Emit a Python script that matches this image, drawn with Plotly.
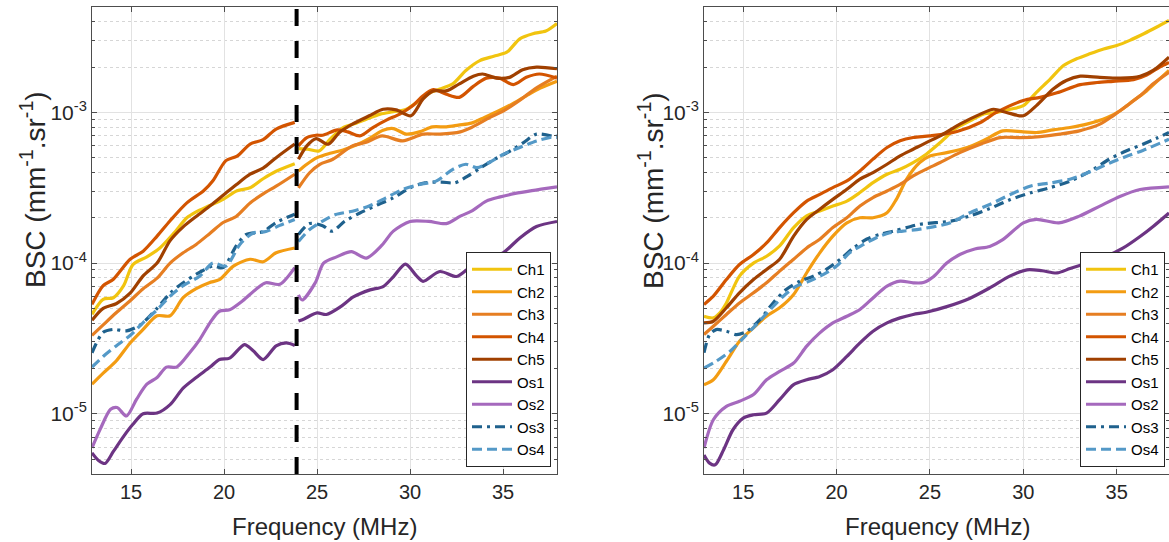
import plotly.graph_objects as go

# ---------------------------------------------------------------------------
# Backscatter coefficient spectra (BSC, mm^-1.sr^-1) versus frequency (MHz)
# Left panel: two transducer bands joined at split_freq
# Right panel: single combined spectrum
# ---------------------------------------------------------------------------
names = ["Ch1", "Ch2", "Ch3", "Ch4", "Ch5", "Os1", "Os2", "Os3", "Os4"]
split_freq = 23.9
x_ticks = [15, 20, 25, 30, 35]
y_ticks = [1e-5, 1e-4, 1e-3]
y_ticktext = ["10<sup>-5</sup>", "10<sup>-4</sup>", "10<sup>-3</sup>"]

# ---- left panel, low band -------------------------------------------------
ch1_lo_f = [12.9, 13.5, 14.05, 14.6, 15.1, 15.85, 16.55, 17.3, 18.0, 18.5, 19.2, 19.95, 20.7, 21.4, 22.1, 22.8, 23.8]
ch1_lo = [4.57e-5, 5.75e-5, 5.89e-5, 7.08e-5, 9.77e-5, 1.10e-4, 1.26e-4, 1.58e-4, 2.0e-4, 2.19e-4, 2.40e-4, 2.65e-4, 3.02e-4, 3.16e-4, 3.63e-4, 4.07e-4, 4.57e-4]
ch2_lo_f = [12.9, 13.5, 14.2, 14.95, 15.65, 16.4, 17.1, 17.8, 18.5, 19.2, 19.75, 20.5, 21.4, 22.1, 22.8, 23.8]
ch2_lo = [1.57e-5, 1.86e-5, 2.24e-5, 2.95e-5, 3.63e-5, 4.47e-5, 4.47e-5, 5.89e-5, 6.76e-5, 7.41e-5, 7.76e-5, 9.55e-5, 1.06e-4, 1.02e-4, 1.17e-4, 1.26e-4]
ch3_lo_f = [12.9, 13.5, 14.2, 14.95, 15.65, 16.4, 17.1, 17.8, 18.5, 19.25, 19.95, 20.65, 21.4, 22.1, 22.8, 23.8]
ch3_lo = [3.31e-5, 3.89e-5, 4.68e-5, 5.62e-5, 6.76e-5, 7.94e-5, 1.0e-4, 1.17e-4, 1.33e-4, 1.58e-4, 1.86e-4, 2.04e-4, 2.51e-4, 2.88e-4, 3.24e-4, 3.89e-4]
ch4_lo_f = [12.9, 13.5, 14.05, 14.95, 15.65, 16.4, 17.1, 18.0, 18.9, 19.4, 20.1, 20.7, 21.4, 22.1, 22.8, 23.8]
ch4_lo = [5.32e-5, 7.08e-5, 7.82e-5, 1.06e-4, 1.20e-4, 1.51e-4, 1.91e-4, 2.51e-4, 3.02e-4, 3.52e-4, 4.79e-4, 5.13e-4, 6.17e-4, 6.61e-4, 7.76e-4, 8.59e-4]
ch5_lo_f = [12.9, 13.5, 14.2, 14.95, 15.65, 16.4, 17.1, 17.8, 18.5, 19.25, 19.95, 20.65, 21.4, 22.1, 22.8, 23.8]
ch5_lo = [4.17e-5, 5.01e-5, 5.37e-5, 6.31e-5, 8.22e-5, 1.0e-4, 1.41e-4, 1.74e-4, 2.04e-4, 2.40e-4, 2.82e-4, 3.31e-4, 3.89e-4, 4.27e-4, 5.01e-4, 6.17e-4]
os1_lo_f = [12.9, 13.25, 13.6, 14.05, 14.6, 15.1, 15.65, 16.4, 17.1, 17.8, 18.5, 19.25, 19.75, 20.3, 21.1, 21.55, 22.1, 22.8, 23.35, 23.8]
os1_lo = [5.50e-6, 4.90e-6, 4.68e-6, 5.62e-6, 7.08e-6, 8.51e-6, 1.0e-5, 1.01e-5, 1.15e-5, 1.48e-5, 1.74e-5, 2.04e-5, 2.29e-5, 2.34e-5, 2.88e-5, 2.63e-5, 2.29e-5, 2.82e-5, 2.95e-5, 2.84e-5]
os2_lo_f = [12.9, 13.35, 13.9, 14.25, 14.75, 15.3, 15.85, 16.4, 16.9, 17.45, 18.15, 18.7, 19.25, 19.75, 20.3, 21.0, 21.75, 22.25, 23.0, 23.8]
os2_lo = [5.94e-6, 7.94e-6, 1.07e-5, 1.10e-5, 9.66e-6, 1.25e-5, 1.57e-5, 1.74e-5, 2.04e-5, 2.04e-5, 2.54e-5, 3.12e-5, 4.03e-5, 4.79e-5, 4.90e-5, 5.62e-5, 6.76e-5, 7.41e-5, 7.24e-5, 9.33e-5]
os3_lo_f = [12.9, 13.5, 14.05, 14.75, 15.5, 16.4, 17.1, 17.8, 18.7, 19.4, 19.95, 20.65, 21.2, 22.1, 22.8, 23.8]
os3_lo = [2.54e-5, 3.47e-5, 3.63e-5, 3.55e-5, 3.89e-5, 5.01e-5, 6.31e-5, 7.41e-5, 8.71e-5, 9.55e-5, 9.33e-5, 1.30e-4, 1.55e-4, 1.62e-4, 1.86e-4, 2.11e-4]
os4_lo_f = [12.9, 13.5, 14.2, 14.95, 15.65, 16.4, 17.1, 17.8, 18.7, 19.4, 20.1, 20.85, 21.55, 22.25, 23.0, 23.8]
os4_lo = [2.04e-5, 2.40e-5, 2.82e-5, 3.31e-5, 4.03e-5, 4.90e-5, 6.03e-5, 7.08e-5, 8.22e-5, 1.0e-4, 9.55e-5, 1.33e-4, 1.58e-4, 1.62e-4, 1.78e-4, 1.95e-4]

# ---- left panel, high band ------------------------------------------------
ch1_hi_f = [24.0, 24.5, 25.1, 25.7, 26.4, 27.1, 27.65, 28.4, 29.1, 29.8, 30.5, 31.1, 31.6, 32.3, 33.0, 33.75, 34.5, 35.2, 35.9, 36.6, 37.3, 37.9]
ch1_hi = [5.75e-4, 5.70e-4, 5.55e-4, 6.64e-4, 7.94e-4, 8.49e-4, 9.03e-4, 9.75e-4, 1.01e-3, 1.05e-3, 1.20e-3, 1.36e-3, 1.43e-3, 1.55e-3, 1.90e-3, 2.21e-3, 2.36e-3, 2.51e-3, 3.08e-3, 3.33e-3, 3.47e-3, 3.90e-3]
ch2_hi_f = [24.0, 24.45, 25.0, 25.7, 26.4, 27.1, 27.8, 28.55, 29.1, 29.8, 30.5, 31.2, 31.95, 32.6, 33.3, 34.0, 34.8, 35.5, 36.25, 37.0, 37.9]
ch2_hi = [4.08e-4, 4.53e-4, 5.01e-4, 5.36e-4, 5.64e-4, 6.08e-4, 6.71e-4, 7.63e-4, 7.82e-4, 7.18e-4, 7.43e-4, 8.02e-4, 8.02e-4, 8.24e-4, 8.49e-4, 9.27e-4, 1.03e-3, 1.14e-3, 1.29e-3, 1.45e-3, 1.61e-3]
ch3_hi_f = [24.0, 24.6, 25.15, 25.85, 26.9, 27.6, 28.5, 29.6, 30.7, 31.6, 32.7, 33.3, 34.3, 35.0, 36.0, 36.7, 37.9]
ch3_hi = [3.16e-4, 3.98e-4, 4.53e-4, 4.89e-4, 6.0e-4, 6.31e-4, 6.99e-4, 6.47e-4, 7.18e-4, 7.18e-4, 7.43e-4, 7.94e-4, 9.27e-4, 1.02e-3, 1.23e-3, 1.43e-3, 1.74e-3]
ch4_hi_f = [24.0, 24.45, 24.95, 25.3, 26.1, 26.65, 27.3, 28.0, 28.75, 29.45, 30.15, 30.7, 31.25, 31.95, 32.65, 33.4, 34.1, 34.8, 35.55, 36.25, 36.95, 37.9]
ch4_hi = [6.0e-4, 6.81e-4, 7.06e-4, 7.06e-4, 7.66e-4, 7.43e-4, 6.99e-4, 7.94e-4, 8.93e-4, 9.75e-4, 1.11e-3, 1.29e-3, 1.42e-3, 1.32e-3, 1.26e-3, 1.49e-3, 1.69e-3, 1.69e-3, 1.53e-3, 1.71e-3, 1.80e-3, 1.69e-3]
ch5_hi_f = [24.0, 24.45, 24.95, 25.6, 26.2, 26.9, 27.8, 28.55, 29.25, 30.05, 30.7, 31.25, 31.95, 32.65, 33.4, 33.9, 34.65, 35.35, 36.05, 36.8, 37.9]
ch5_hi = [4.89e-4, 6.0e-4, 6.71e-4, 6.15e-4, 7.36e-4, 8.36e-4, 9.50e-4, 1.05e-3, 1.04e-3, 9.50e-4, 1.23e-3, 1.39e-3, 1.39e-3, 1.55e-3, 1.74e-3, 1.80e-3, 1.69e-3, 1.71e-3, 1.92e-3, 2.0e-3, 1.95e-3]
os1_hi_f = [24.0, 24.3, 25.0, 25.5, 26.25, 26.95, 27.85, 28.55, 29.1, 29.75, 30.35, 30.7, 31.6, 32.5, 33.25, 33.95, 35.0, 35.9, 36.8, 37.9]
os1_hi = [4.12e-5, 4.26e-5, 4.67e-5, 4.56e-5, 5.12e-5, 5.96e-5, 6.64e-5, 6.98e-5, 8.11e-5, 9.84e-5, 8.22e-5, 7.57e-5, 8.79e-5, 8.15e-5, 9.45e-5, 1.05e-4, 1.17e-4, 1.47e-4, 1.75e-4, 1.89e-4]
os2_hi_f = [24.0, 24.2, 24.9, 25.35, 26.05, 26.85, 27.65, 28.5, 29.1, 30.0, 31.0, 31.95, 32.7, 33.3, 34.1, 34.85, 35.65, 36.55, 37.9]
os2_hi = [6.15e-5, 5.69e-5, 7.39e-5, 1.0e-4, 1.10e-4, 1.19e-4, 1.08e-4, 1.32e-4, 1.63e-4, 1.89e-4, 1.89e-4, 1.83e-4, 2.05e-4, 2.21e-4, 2.58e-4, 2.75e-4, 2.90e-4, 3.03e-4, 3.21e-4]
os3_hi_f = [24.0, 24.6, 25.3, 25.8, 26.5, 27.3, 28.3, 29.1, 30.0, 30.8, 31.7, 32.4, 33.1, 33.8, 34.6, 35.3, 36.1, 36.8, 37.9]
os3_hi = [1.55e-4, 1.83e-4, 1.77e-4, 1.63e-4, 1.90e-4, 2.15e-4, 2.45e-4, 2.71e-4, 3.16e-4, 3.41e-4, 3.45e-4, 3.41e-4, 3.78e-4, 4.30e-4, 4.93e-4, 5.47e-4, 6.31e-4, 7.18e-4, 6.81e-4]
os4_hi_f = [24.0, 24.6, 25.3, 26.0, 26.9, 27.8, 28.7, 29.6, 30.5, 31.4, 32.3, 33.0, 33.6, 34.3, 35.0, 35.9, 36.8, 37.9]
os4_hi = [1.39e-4, 1.67e-4, 1.90e-4, 2.10e-4, 2.21e-4, 2.39e-4, 2.71e-4, 3.08e-4, 3.33e-4, 3.50e-4, 4.19e-4, 4.53e-4, 4.30e-4, 4.69e-4, 5.27e-4, 5.85e-4, 6.47e-4, 6.99e-4]

# ---- right panel, combined spectrum ---------------------------------------
ch1_r_f = [12.9, 13.4, 13.75, 14.1, 14.8, 15.55, 16.25, 16.95, 17.7, 18.4, 19.1, 19.8, 20.55, 21.25, 21.95, 22.7, 23.4, 24.1, 24.8, 25.55, 26.45, 27.15, 27.85, 28.55, 29.3, 30.0, 30.7, 31.45, 32.15, 32.85, 33.55, 34.3, 35.0, 35.7, 36.45, 37.15, 37.8]
ch1_r = [4.44e-5, 4.33e-5, 4.68e-5, 5.44e-5, 8.20e-5, 1.0e-4, 1.11e-4, 1.30e-4, 1.72e-4, 2.06e-4, 2.22e-4, 2.39e-4, 2.58e-4, 2.94e-4, 3.42e-4, 3.89e-4, 4.20e-4, 4.65e-4, 5.28e-4, 6.31e-4, 7.94e-4, 8.79e-4, 9.75e-4, 1.0e-3, 1.05e-3, 1.11e-3, 1.36e-3, 1.67e-3, 2.05e-3, 2.27e-3, 2.45e-3, 2.64e-3, 2.78e-3, 3.01e-3, 3.33e-3, 3.69e-3, 4.08e-3]
ch2_r_f = [12.9, 13.4, 14.1, 14.8, 15.55, 16.25, 16.95, 17.7, 18.4, 19.1, 19.8, 20.55, 21.25, 21.95, 22.7, 23.2, 23.75, 24.45, 25.0, 25.9, 27.0, 28.0, 28.9, 30.0, 30.7, 31.6, 32.5, 33.4, 34.5, 35.2, 35.9, 36.6, 37.3, 37.8]
ch2_r = [1.56e-5, 1.68e-5, 2.23e-5, 3.03e-5, 3.72e-5, 4.44e-5, 5.05e-5, 6.19e-5, 8.63e-5, 1.17e-4, 1.51e-4, 1.85e-4, 2.0e-4, 2.0e-4, 2.16e-4, 2.65e-4, 3.61e-4, 4.65e-4, 5.14e-4, 5.41e-4, 5.85e-4, 6.64e-4, 7.55e-4, 7.43e-4, 7.36e-4, 7.66e-4, 7.94e-4, 8.36e-4, 9.26e-4, 1.03e-3, 1.20e-3, 1.39e-3, 1.67e-3, 1.90e-3]
ch3_r_f = [12.9, 13.4, 14.1, 14.8, 15.55, 16.25, 16.95, 17.7, 18.4, 19.1, 19.8, 20.55, 21.25, 21.95, 22.7, 23.4, 24.1, 24.8, 25.55, 26.6, 27.7, 28.75, 29.8, 30.9, 31.95, 33.0, 34.1, 34.8, 35.55, 36.25, 36.95, 37.8]
ch3_r = [3.36e-5, 3.81e-5, 4.56e-5, 5.44e-5, 6.35e-5, 7.40e-5, 8.85e-5, 1.06e-4, 1.26e-4, 1.44e-4, 1.72e-4, 2.0e-4, 2.39e-4, 2.72e-4, 3.01e-4, 3.33e-4, 3.79e-4, 4.20e-4, 4.65e-4, 5.41e-4, 6.15e-4, 6.81e-4, 6.81e-4, 6.92e-4, 7.18e-4, 7.55e-4, 8.36e-4, 9.50e-4, 1.11e-3, 1.29e-3, 1.55e-3, 1.85e-3]
ch4_r_f = [12.9, 13.4, 14.1, 14.8, 15.55, 16.25, 16.95, 17.7, 18.4, 19.1, 19.8, 20.55, 21.25, 21.95, 22.7, 23.4, 24.1, 25.0, 26.45, 27.7, 28.55, 30.0, 30.9, 31.8, 33.05, 33.95, 34.8, 35.9, 36.6, 37.3, 37.8]
ch4_r = [5.31e-5, 6.03e-5, 7.78e-5, 9.79e-5, 1.14e-4, 1.36e-4, 1.72e-4, 2.16e-4, 2.58e-4, 2.86e-4, 3.17e-4, 3.51e-4, 4.09e-4, 4.90e-4, 5.85e-4, 6.49e-4, 6.82e-4, 6.99e-4, 7.47e-4, 8.57e-4, 1.0e-3, 1.20e-3, 1.26e-3, 1.35e-3, 1.53e-3, 1.58e-3, 1.61e-3, 1.65e-3, 1.77e-3, 2.0e-3, 2.15e-3]
ch5_r_f = [12.9, 13.4, 14.1, 14.8, 15.55, 16.25, 16.95, 17.7, 18.4, 19.1, 19.8, 20.55, 21.25, 21.95, 22.7, 23.4, 24.1, 24.8, 25.55, 26.6, 27.7, 28.4, 29.1, 30.0, 30.7, 31.6, 32.3, 33.05, 34.1, 35.2, 36.25, 36.95, 37.8]
ch5_r = [4.01e-5, 4.11e-5, 5.05e-5, 6.35e-5, 7.78e-5, 9.08e-5, 1.06e-4, 1.51e-4, 1.95e-4, 2.28e-4, 2.65e-4, 3.09e-4, 3.61e-4, 3.99e-4, 4.53e-4, 5.15e-4, 5.70e-4, 6.31e-4, 6.99e-4, 8.36e-4, 9.75e-4, 1.05e-3, 1.0e-3, 9.50e-4, 1.11e-3, 1.43e-3, 1.63e-3, 1.74e-3, 1.71e-3, 1.69e-3, 1.74e-3, 1.90e-3, 2.33e-3]
os1_r_f = [12.9, 13.2, 13.5, 13.95, 14.45, 15.0, 15.55, 16.25, 16.95, 17.7, 18.4, 19.1, 19.8, 20.55, 21.25, 21.95, 22.7, 23.4, 24.1, 24.8, 25.9, 27.15, 28.2, 29.3, 30.2, 31.0, 31.8, 32.5, 33.4, 34.45, 35.35, 36.25, 36.95, 37.8]
os1_r = [5.33e-6, 4.70e-6, 4.58e-6, 5.77e-6, 7.83e-6, 9.35e-6, 9.84e-6, 1.01e-5, 1.24e-5, 1.56e-5, 1.68e-5, 1.77e-5, 1.96e-5, 2.40e-5, 2.95e-5, 3.53e-5, 4.01e-5, 4.33e-5, 4.56e-5, 4.72e-5, 5.14e-5, 5.85e-5, 6.84e-5, 8.22e-5, 9.02e-5, 8.90e-5, 8.60e-5, 9.20e-5, 1.0e-4, 1.11e-4, 1.26e-4, 1.50e-4, 1.75e-4, 2.15e-4]
os2_r_f = [12.9, 13.4, 14.1, 14.8, 15.55, 16.25, 16.95, 17.7, 18.4, 19.1, 19.8, 20.55, 21.25, 21.95, 22.7, 23.4, 24.1, 24.65, 25.2, 25.9, 26.6, 27.4, 28.2, 28.9, 30.0, 30.7, 31.9, 33.0, 34.1, 35.2, 36.25, 37.8]
os2_r = [5.92e-6, 9.12e-6, 1.12e-5, 1.21e-5, 1.34e-5, 1.68e-5, 1.91e-5, 2.17e-5, 2.81e-5, 3.44e-5, 4.01e-5, 4.44e-5, 4.92e-5, 5.87e-5, 7.03e-5, 7.59e-5, 7.40e-5, 7.43e-5, 8.15e-5, 1.0e-4, 1.14e-4, 1.24e-4, 1.29e-4, 1.43e-4, 1.85e-4, 1.95e-4, 1.85e-4, 2.05e-4, 2.39e-4, 2.78e-4, 3.08e-4, 3.21e-4]
os3_r_f = [12.9, 13.2, 13.55, 14.1, 14.65, 15.2, 15.9, 16.6, 17.3, 18.05, 18.75, 19.45, 20.2, 20.9, 21.6, 22.3, 23.05, 23.75, 24.45, 26.1, 27.1, 28.2, 29.3, 30.4, 31.4, 32.5, 33.6, 34.6, 35.5, 36.4, 37.1, 37.8]
os3_r = [2.54e-5, 3.35e-5, 3.62e-5, 3.53e-5, 3.35e-5, 3.53e-5, 4.22e-5, 5.44e-5, 6.68e-5, 7.59e-5, 8.18e-5, 9.08e-5, 1.06e-4, 1.26e-4, 1.44e-4, 1.55e-4, 1.63e-4, 1.72e-4, 1.81e-4, 1.90e-4, 2.05e-4, 2.30e-4, 2.64e-4, 2.93e-4, 3.16e-4, 3.50e-4, 4.08e-4, 4.89e-4, 5.55e-4, 6.15e-4, 6.71e-4, 7.36e-4]
os4_r_f = [12.9, 13.55, 14.3, 15.0, 15.7, 16.45, 17.15, 17.85, 18.55, 19.3, 20.0, 20.7, 21.45, 22.15, 22.85, 23.55, 24.3, 26.1, 27.1, 28.2, 29.3, 30.4, 31.4, 32.5, 33.6, 34.6, 35.5, 36.4, 37.8]
os4_r = [2.01e-5, 2.23e-5, 2.60e-5, 3.18e-5, 3.91e-5, 4.92e-5, 6.03e-5, 7.03e-5, 7.59e-5, 8.41e-5, 9.55e-5, 1.17e-4, 1.33e-4, 1.48e-4, 1.59e-4, 1.63e-4, 1.67e-4, 1.85e-4, 2.15e-4, 2.45e-4, 2.85e-4, 3.25e-4, 3.40e-4, 3.60e-4, 4.05e-4, 4.60e-4, 5.10e-4, 5.60e-4, 6.64e-4]

# ---- styling --------------------------------------------------------------
colors = ["#F1C40F", "#F39C12", "#E67E22", "#D35400", "#A04000",
          "#6C3483", "#A569BD", "#1F618D", "#5499C7"]
dashes = ["solid"] * 7 + ["10px,5px,3px,5px", "10px,5px"]
line_w = 3.2
axis_col = "#4d4d4d"
text_col = "#262626"
font_family = "Liberation Sans, Arial, sans-serif"

left_series = [
    (ch1_lo_f, ch1_lo, ch1_hi_f, ch1_hi),
    (ch2_lo_f, ch2_lo, ch2_hi_f, ch2_hi),
    (ch3_lo_f, ch3_lo, ch3_hi_f, ch3_hi),
    (ch4_lo_f, ch4_lo, ch4_hi_f, ch4_hi),
    (ch5_lo_f, ch5_lo, ch5_hi_f, ch5_hi),
    (os1_lo_f, os1_lo, os1_hi_f, os1_hi),
    (os2_lo_f, os2_lo, os2_hi_f, os2_hi),
    (os3_lo_f, os3_lo, os3_hi_f, os3_hi),
    (os4_lo_f, os4_lo, os4_hi_f, os4_hi),
]
right_series = [
    (ch1_r_f, ch1_r), (ch2_r_f, ch2_r), (ch3_r_f, ch3_r), (ch4_r_f, ch4_r),
    (ch5_r_f, ch5_r), (os1_r_f, os1_r), (os2_r_f, os2_r), (os3_r_f, os3_r),
    (os4_r_f, os4_r),
]

W, H = 1169, 542
left_dom = [92 / W, 557 / W]
right_dom = [704 / W, 1.0]
y_dom = [1 - 474 / H, 1 - 7 / H]

fig = go.Figure()

for name, col, dsh, (flo, vlo, fhi, vhi) in zip(names, colors, dashes, left_series):
    fig.add_trace(go.Scatter(
        x=flo + [None] + fhi, y=vlo + [None] + vhi, name=name,
        mode="lines", line=dict(color=col, width=line_w, dash=dsh, shape="spline", smoothing=0.8),
        xaxis="x", yaxis="y", legend="legend", connectgaps=False,
    ))

for name, col, dsh, (f, v) in zip(names, colors, dashes, right_series):
    fig.add_trace(go.Scatter(
        x=f, y=v, name=name,
        mode="lines", line=dict(color=col, width=line_w, dash=dsh, shape="spline", smoothing=0.8),
        xaxis="x2", yaxis="y2", legend="legend2",
    ))

# band boundary in the left panel
fig.add_shape(type="line", x0=split_freq, x1=split_freq, y0=0, y1=1,
              xref="x", yref="y domain",
              line=dict(color="black", width=4, dash="17px,15px"))

xaxis_common = dict(
    range=[12.9, 37.9], tickmode="array", tickvals=x_ticks,
    ticks="inside", ticklen=5, tickcolor=axis_col, tickwidth=1,
    showline=True, linecolor=axis_col, linewidth=1, mirror="allticks",
    showgrid=True, gridcolor="#e2e2e2", gridwidth=1, zeroline=False,
    tickfont=dict(size=20, color=text_col, family=font_family),
)
yaxis_common = dict(
    type="log", range=[-5.4, -2.3], tickmode="array",
    tickvals=y_ticks, ticktext=y_ticktext,
    ticks="inside", ticklen=5, tickcolor=axis_col, tickwidth=1,
    showline=True, linecolor=axis_col, linewidth=1, mirror="allticks",
    showgrid=True, gridcolor="#e2e2e2", gridwidth=1, zeroline=False,
    tickfont=dict(size=21, color=text_col, family=font_family),
    minor=dict(dtick="D1", ticks="inside", ticklen=3, tickcolor=axis_col,
               showgrid=True, griddash="dot", gridcolor="#d6d6d6", gridwidth=1),
    domain=y_dom,
)

legend_common = dict(
    bgcolor="white", bordercolor=text_col, borderwidth=1,
    font=dict(size=15, color="black", family=font_family),
    xanchor="right", yanchor="bottom", tracegroupgap=0,
    itemwidth=40, traceorder="normal",
)

fig.update_layout(
    width=W, height=H,
    margin=dict(l=0, r=0, t=0, b=0),
    paper_bgcolor="white", plot_bgcolor="white",
    font=dict(family=font_family, color=text_col),
    xaxis=dict(xaxis_common, domain=left_dom, anchor="y"),
    yaxis=dict(yaxis_common, anchor="x"),
    xaxis2=dict(xaxis_common, domain=right_dom, anchor="y2", range=[12.9, 37.8]),
    yaxis2=dict(yaxis_common, anchor="x2"),
    legend=dict(legend_common, x=551 / W, y=1 - 467 / H),
    legend2=dict(legend_common, x=1165 / W, y=1 - 467 / H),
    showlegend=True,
)

# axis titles
y_title = "BSC (mm<sup>-1</sup>.sr<sup>-1</sup>)"
x_title = "Frequency (MHz)"
for xc in (33, 651):
    fig.add_annotation(text=y_title, x=xc / W, y=1 - 190 / H, xref="paper", yref="paper",
                       textangle=-90, showarrow=False, xanchor="center", yanchor="middle",
                       font=dict(size=28, color=text_col, family=font_family))
for xc in (324, 937):
    fig.add_annotation(text=x_title, x=xc / W, y=1 - 526 / H, xref="paper", yref="paper",
                       showarrow=False, xanchor="center", yanchor="middle",
                       font=dict(size=24, color=text_col, family=font_family))

fig.write_html("out.html")
